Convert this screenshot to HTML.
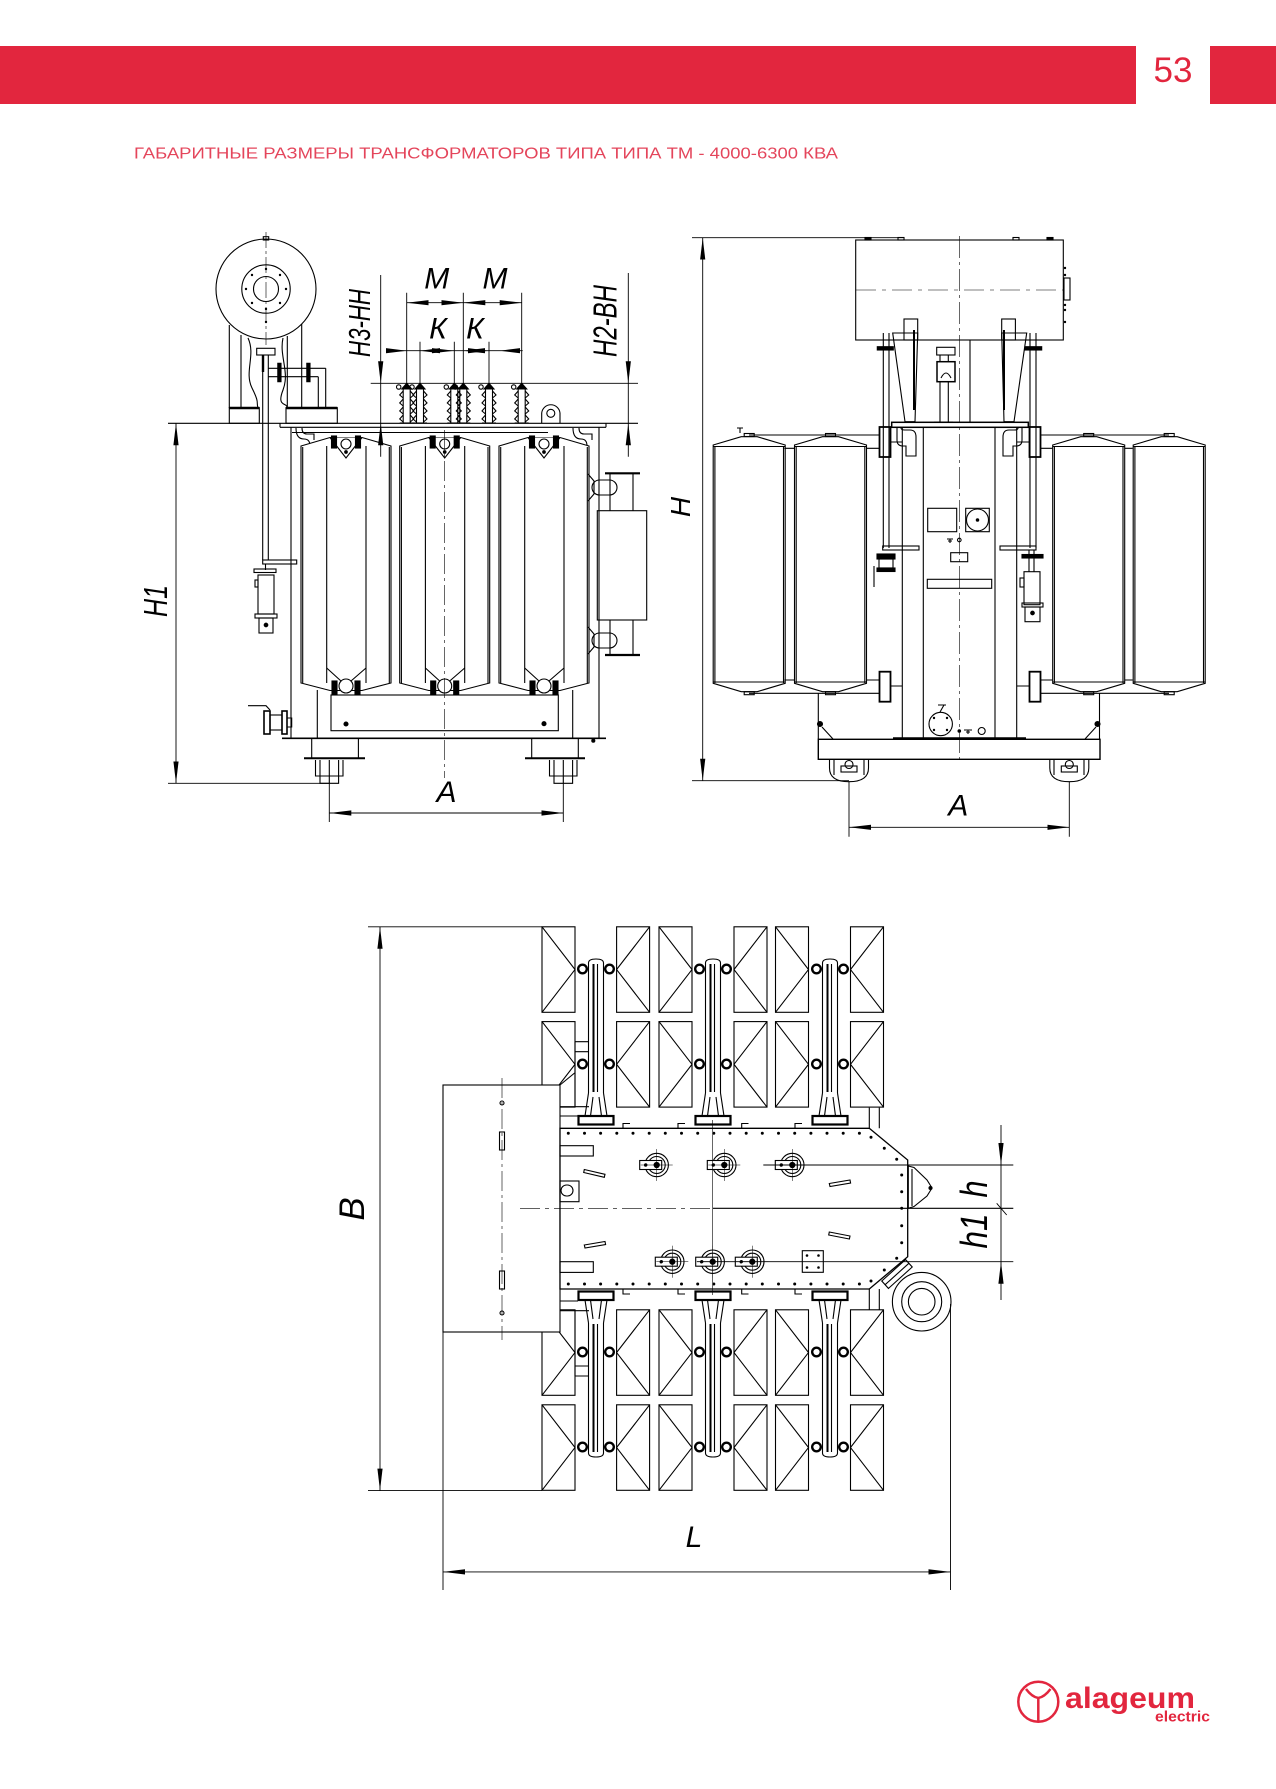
<!DOCTYPE html>
<html><head><meta charset="utf-8"><title>ТМ 4000-6300</title>
<style>html,body{margin:0;padding:0;background:#fff}svg{display:block}</style></head>
<body>
<svg xmlns="http://www.w3.org/2000/svg" width="1276" height="1789" viewBox="0 0 1276 1789">
<defs>
<marker id="ar" viewBox="0 -3 22 6" refX="22" refY="0" markerWidth="22" markerHeight="6" markerUnits="userSpaceOnUse" orient="auto-start-reverse"><path d="M0,-2.6L22,0L0,2.6Z" fill="#000"/></marker>
<g id="lrad">
<path d="M-45,683V446L-16,437.5H16L45,446V683L16,690.5H-16Z" fill="#fff"/>
<path d="M-43.3,447V683M-19.3,446V683M20,446V683M43.3,447V683"/>
<path d="M-16,437.5L0,458L16,437.5" fill="#fff"/>
<circle cx="0" cy="444" r="5"/>
<rect x="-14.5" y="436" width="5" height="12" fill="#000"/>
<rect x="9.5" y="436" width="5" height="12" fill="#000"/>
<circle cx="0" cy="452" r="1.3" fill="#000"/>
<path d="M-19.3,668L-5,681M20,668L5,681"/>
<circle cx="0" cy="686" r="7" fill="#fff"/>
<rect x="-14" y="681" width="5" height="13" fill="#000"/>
<rect x="9" y="681" width="5" height="13" fill="#000"/>
</g>
<g id="rrad">
<path d="M-36,683.3V445L-8,436.7H8L36,445V683.3L8,691.7H-8Z" fill="#fff"/>
<path d="M-34.3,446V683M34.3,446V683M-36,446.5H36M-36,682H36"/>
<rect x="-5" y="433.5" width="10" height="3"/>
<rect x="-5" y="691.7" width="10" height="3"/>
</g>
<g id="cg"><rect x="0" y="0" width="33" height="85.5" fill="#fff"/><path d="M0,0L33,42.75L0,85.5"/></g>
<g id="cl"><rect x="0" y="0" width="33" height="85.5" fill="#fff"/><path d="M33,0L0,42.75L33,85.5"/></g>
<g id="hb">
<path d="M-7.5,1093V963Q-7.5,959 0,959Q7.5,959 7.5,963V1093" fill="#fff"/>
<path d="M-2.5,964V1092" stroke-width="2"/>
<path d="M1.5,964V1092"/>
<path d="M-7.5,1093L-11,1116M7.5,1093L11,1116M-3,1097L-5.5,1116M3,1097L5.5,1116"/>
<rect x="-17.5" y="1116" width="35" height="8.5" stroke-width="2.2" fill="#fff"/>
<circle cx="-13.5" cy="969" r="4.3" stroke-width="2.4" fill="#fff"/>
<circle cx="13.5" cy="969" r="4.3" stroke-width="2.4" fill="#fff"/>
<circle cx="-13.5" cy="1064" r="4.3" stroke-width="2.4" fill="#fff"/>
<circle cx="13.5" cy="1064" r="4.3" stroke-width="2.4" fill="#fff"/>
</g>
<g id="bsh">
<path d="M-3.5,388V423M3.5,388V423"/>
<path d="M-3.5,391L-7,395L-3.5,398M3.5,391L7,395L3.5,398M-3.5,399L-7,403L-3.5,406M3.5,399L7,403L3.5,406M-3.5,407L-7,411L-3.5,414M3.5,407L7,411L3.5,414M-3.5,415L-7,419L-3.5,422M3.5,415L7,419L3.5,422"/>
<path d="M-5,389L0,383.3L5,389Z" fill="#000"/>
<circle cx="-8" cy="387" r="2.2"/>
<path d="M-7,423H7"/>
</g>
<g id="tbsh">
<circle cx="0" cy="0" r="11.7"/>
<circle cx="0" cy="0" r="8.5"/>
<rect x="-17" y="-4.5" width="22" height="9" fill="#fff"/>
<circle cx="0" cy="0" r="2.6" fill="#000"/>
<circle cx="-11" cy="0" r="1.2" fill="#000"/>
<path d="M-16,0H16M0,-16V16" stroke-width="0.5"/>
</g>
</defs>

<rect width="1276" height="1789" fill="#fff"/>

<!-- HEADER -->
<rect x="0" y="46" width="1136" height="58" fill="#e2263e"/>
<rect x="1210" y="46" width="66" height="58" fill="#e2263e"/>
<text x="1173" y="82" font-family="Liberation Sans, sans-serif" font-size="35" text-anchor="middle" fill="#e2263e">53</text>
<text x="134" y="158.3" font-family="Liberation Sans, sans-serif" font-size="16" fill="#e4455b" textLength="704" lengthAdjust="spacingAndGlyphs">ГАБАРИТНЫЕ РАЗМЕРЫ ТРАНСФОРМАТОРОВ ТИПА ТИПА ТМ - 4000-6300 КВА</text>

<!-- ================= LEFT (FRONT) VIEW ================= -->
<g fill="none" stroke="#000" stroke-width="1.1">
<circle cx="266" cy="289" r="50"/>
<circle cx="266" cy="289" r="24.2"/>
<circle cx="266" cy="289" r="12.5"/>
<g fill="#000" stroke="none">
<circle cx="266" cy="269" r="1.2"/><circle cx="266" cy="309" r="1.2"/><circle cx="246" cy="289" r="1.2"/><circle cx="286" cy="289" r="1.2"/>
<circle cx="252" cy="275" r="1.2"/><circle cx="280" cy="275" r="1.2"/><circle cx="252" cy="303" r="1.2"/><circle cx="280" cy="303" r="1.2"/>
<circle cx="266" cy="322" r="1.2"/>
</g>
<rect x="263.3" y="236.7" width="5.4" height="3.3"/>
<path d="M266,232V345" stroke-width="0.6" stroke-dasharray="16 3 3 3"/>
<path d="M229.3,325V408M241,335V408M287.3,336V408M301.7,324V408"/>
<path d="M248,338C256,355 244,372 252,388S256,402 258,408M283,338C279,356 290,372 283,390S288,402 287,408"/>
<rect x="229.3" y="407.7" width="30" height="15.6"/>
<path d="M229.3,408H259.3M286,408H337.3" stroke-width="2.4"/>
<rect x="286" y="407.7" width="51.3" height="15.6"/>
<path d="M262.7,355V560M268.3,355V560"/>
<rect x="256.7" y="348.3" width="18.3" height="6.7"/>
<path d="M263,355V372" stroke-width="2.4"/>
<path d="M268.3,368.3H325.7M268.3,376.7H318.3M325.7,368.3V407.7M318.3,376.7V407.7"/>
<rect x="277.8" y="363.3" width="3.2" height="18.4" fill="#000"/>
<rect x="306.8" y="363.3" width="3.2" height="18.4" fill="#000"/>
<rect x="262.7" y="560" width="34" height="4"/>
<path d="M265.5,564V570" />
<rect x="254" y="569" width="22" height="3.5"/>
<rect x="258" y="575" width="16" height="39"/>
<rect x="255" y="580" width="3" height="7"/>
<rect x="255" y="614" width="22" height="4"/>
<rect x="259" y="618" width="14" height="15"/>
<circle cx="266" cy="625" r="1.8" fill="#000"/>
<path d="M248,705.7H266L270,710"/>
<rect x="264" y="711" width="6" height="23" stroke-width="1.6"/>
<rect x="270" y="715" width="12" height="15"/>
<rect x="282" y="711" width="5" height="23" stroke-width="1.6"/>
<path d="M287,718H291.7V727H287"/>
<path d="M168,423.3H638"/>
<path d="M280,427.3H606M280,423.3V427.3M606,423.3V427.3"/>
<path d="M292,432.5H548"/>
<path d="M291,427.3V738.3M599,427.3V738.3"/>
<path d="M282,738.3H606" stroke-width="1.6"/>
<path d="M296,428Q296,439 304,439Q310,439 310,446M302,428Q302,434 307,434H314V440"/>
<path d="M573,428Q573,439 581,439Q587,439 587,446M579,428Q579,434 584,434H592V440"/>
<path d="M541.7,423.3V413A9.2,9.2 0 0 1 560,413V423.3"/>
<circle cx="550.8" cy="413.3" r="4"/>
<use href="#bsh" x="406.7"/><use href="#bsh" x="420"/><use href="#bsh" x="454.3"/><use href="#bsh" x="463.3"/><use href="#bsh" x="489"/><use href="#bsh" x="521.7"/>
<use href="#lrad" x="346"/><use href="#lrad" x="444.7"/><use href="#lrad" x="544"/>
<path d="M444.7,430V778" stroke-width="0.6" stroke-dasharray="20 4 3 4"/>
<rect x="331" y="695" width="227.3" height="35.7"/>
<circle cx="346" cy="724" r="2" fill="#000"/>
<circle cx="544" cy="723.7" r="2" fill="#000"/>
<path d="M317.3,690V738.3M572.7,690V738.3"/>
<rect x="311.7" y="738.3" width="46.7" height="20"/>
<path d="M304,758.3H365" stroke-width="2"/>
<path d="M315.5,760V776H343V760M320,760V783.3H338.6V760M329.3,760V783.3"/>
<rect x="531.7" y="738.3" width="46.6" height="20"/>
<path d="M525,758.3H585" stroke-width="2"/>
<path d="M549.5,760V776H577V760M554,760V783.3H572.6V760M563.3,760V783.3"/>
<rect x="597.3" y="510.7" width="49.4" height="109.3"/>
<path d="M605,473.3H640M605,655H640" stroke-width="2.2"/>
<path d="M610,473.3V510.7M633,473.3V510.7M610,620V655M633,620V655"/>
<rect x="592" y="480" width="25" height="15" rx="7.5"/>
<path d="M588,474L594,481V494L588,501"/>
<rect x="592" y="633" width="25" height="15" rx="7.5"/>
<path d="M588,627L594,634V647L588,654"/>
<circle cx="593.3" cy="740.7" r="1.5" fill="#000"/>
</g>

<g fill="none" stroke="#000" stroke-width="0.9">
<path d="M176,423.3V783.3" marker-start="url(#ar)" marker-end="url(#ar)"/>
<path d="M168,783.3H329.3"/>
<path d="M329.3,783.3V822M563.3,783.3V822"/>
<path d="M329.3,813H563.3" marker-start="url(#ar)" marker-end="url(#ar)"/>
<path d="M380.7,275V456.7M628.3,273V456.7"/>
<path d="M370.7,383.3H638"/>
<path d="M406.7,292.7V383M463.3,292.7V383M521.7,292.7V383"/>
<path d="M406.7,302.7H463.3" marker-start="url(#ar)" marker-end="url(#ar)"/>
<path d="M463.3,302.7H521.7" marker-start="url(#ar)" marker-end="url(#ar)"/>
<path d="M420,341.7V383M454.3,341.7V383M489,341.7V383"/>
<path d="M386.7,350.7H522.7"/>
</g>
<g fill="#000" stroke="none">
<path d="M380.7,383.3L378.1,361.3H383.3Z"/><path d="M380.7,423.3L378.1,445.3H383.3Z"/>
<path d="M628.3,383.3L625.7,361.3H630.9Z"/><path d="M628.3,423.3L625.7,445.3H630.9Z"/>
<path d="M406.7,350.7L386,348.1V353.3Z"/>
<path d="M420,350.7L440,348.1V353.3Z"/>
<path d="M454.3,350.7L432,348.1V353.3Z"/>
<path d="M463.3,350.7L485,348.1V353.3Z"/>
<path d="M489,350.7L468,348.1V353.3Z"/>
<path d="M500,350.7L520,348.1V353.3Z"/>
</g>
<g font-family="Liberation Sans, sans-serif" font-style="italic" fill="#000">
<text x="446.5" y="802" font-size="30" text-anchor="middle">А</text>
<text x="436.7" y="288.3" font-size="30" text-anchor="middle">М</text>
<text x="495" y="288.3" font-size="30" text-anchor="middle">М</text>
<text x="438" y="338.3" font-size="30" text-anchor="middle">К</text>
<text x="475" y="338.3" font-size="30" text-anchor="middle">К</text>
<text transform="translate(167,601) rotate(-90)" font-size="33" text-anchor="middle" textLength="32" lengthAdjust="spacingAndGlyphs">Н1</text>
<text transform="translate(370,323) rotate(-90)" font-size="31" text-anchor="middle" textLength="68" lengthAdjust="spacingAndGlyphs">Н3-НН</text>
<text transform="translate(616.5,321) rotate(-90)" font-size="33" text-anchor="middle" textLength="72" lengthAdjust="spacingAndGlyphs">Н2-ВН</text>
</g>

<!-- ================= RIGHT (SIDE) VIEW ================= -->
<g fill="none" stroke="#000" stroke-width="1.1">
<rect x="855.7" y="240" width="207.6" height="100"/>
<path d="M856,290H1063" stroke-width="0.6" stroke-dasharray="20 6 4 6"/>
<rect x="865" y="237.5" width="6" height="2.5" fill="#000"/>
<rect x="898" y="237.5" width="6" height="2.5"/>
<rect x="1013" y="237.5" width="6" height="2.5"/>
<rect x="1047" y="237.5" width="6" height="2.5" fill="#000"/>
<rect x="1064" y="278" width="6" height="22"/>
<g fill="#000" stroke="none"><circle cx="1065" cy="268" r="1.2"/><circle cx="1065" cy="275" r="1.2"/><circle cx="1065" cy="305" r="1.2"/><circle cx="1065" cy="310" r="1.2"/><circle cx="1065" cy="322" r="1.2"/></g>
<rect x="904" y="319" width="13.7" height="21"/>
<path d="M892.7,333H917.7L915,421.7H905Z"/>
<path d="M914,330V410" stroke-width="2"/>
<rect x="1001.7" y="319" width="13.7" height="21"/>
<path d="M1001.7,333H1026.7L1014,421.7H1004Z"/>
<path d="M1004,330V410" stroke-width="2"/>
<path d="M883.3,333V548M889,333V548M1030,333V548M1036,333V548"/>
<rect x="877.3" y="346.7" width="16" height="3.3" fill="#000"/>
<rect x="1025" y="346.7" width="16.7" height="3.3" fill="#000"/>
<rect x="936.7" y="347.3" width="18.3" height="7.7"/>
<path d="M940,355V362M948.3,355V362"/>
<rect x="937" y="361.7" width="18" height="20" stroke-width="1.5"/>
<path d="M941,378Q946,368 951,378"/>
<path d="M940,381.7V422M948.3,381.7V422M934,422H953"/>
<path d="M970,340V422"/>
<rect x="891.7" y="422.3" width="136.6" height="5" stroke-width="1.5"/>
<use href="#rrad" x="749.2"/><use href="#rrad" x="830.5"/><use href="#rrad" x="1088.7"/><use href="#rrad" x="1169.2"/>
<path d="M749,435H880M784.3,448.3H794.3M866.7,448.3H880M1040,435H1169M1040,448.3H1052.3M1125,448.3H1132.7"/>
<path d="M749,693.3H880M784.3,680H794.3M866.7,680H880M1040,693.3H1169M1040,680H1052.3M1125,680H1132.7"/>
<path d="M740,433V428M737,428H743"/>
<rect x="879.5" y="427" width="11" height="30" stroke-width="1.8"/>
<rect x="1029.5" y="427" width="11" height="30" stroke-width="1.8"/>
<rect x="879.5" y="671.7" width="11" height="30" stroke-width="1.8"/>
<rect x="1029.5" y="671.7" width="11" height="30" stroke-width="1.8"/>
<path d="M890.5,442H902M1017,442H1029.5M890.5,686H902M1017,686H1029.5"/>
<path d="M902.3,427.3V738.3M1016.7,427.3V738.3M923.3,427.3V738.3M995,427.3V738.3"/>
<path d="M897,428V440Q897,446 903,446H906V456H916V437Q916,430 910,430H905Q901,430 901,428"/>
<path d="M1022,428V440Q1022,446 1016,446H1013V456H1003V437Q1003,430 1009,430H1014Q1018,430 1018,428"/>
<rect x="927.7" y="508.3" width="29" height="23.4"/>
<rect x="965.7" y="508.3" width="23.6" height="23.4"/>
<circle cx="977.5" cy="520" r="11"/>
<circle cx="977.5" cy="520" r="1.2" fill="#000"/>
<path d="M947,539H953M950,539V543M948,541H952"/>
<circle cx="959.3" cy="540" r="1.8"/>
<rect x="950.7" y="552.7" width="17" height="9"/>
<rect x="927.3" y="579.3" width="64.4" height="9"/>
<rect x="882.7" y="546" width="36.3" height="4"/>
<rect x="1000" y="546" width="36" height="4"/>
<rect x="877" y="554" width="18" height="5" fill="#000"/>
<rect x="879" y="559" width="14" height="9"/>
<rect x="877" y="568" width="18" height="3.5" fill="#000"/>
<path d="M874,566V587"/>
<rect x="1022" y="554.5" width="21" height="3.5" fill="#000"/>
<path d="M1029,550V571.7M1034,550V571.7"/>
<rect x="1024" y="571.7" width="16" height="33"/>
<rect x="1020" y="578" width="4" height="9"/>
<rect x="1022" y="603" width="21" height="4"/>
<rect x="1025" y="607" width="15" height="14.7"/>
<circle cx="1032.5" cy="613" r="1.8" fill="#000"/>
<circle cx="940.7" cy="724" r="11.7"/>
<g fill="#000" stroke="none"><circle cx="934" cy="718" r="1.2"/><circle cx="947" cy="718" r="1.2"/><circle cx="934" cy="730" r="1.2"/><circle cx="947" cy="730" r="1.2"/><circle cx="959.3" cy="731" r="1.8"/></g>
<path d="M940,712L944,705M938,705L946,705"/>
<path d="M964,730H972M968,730V734M966,732H970"/>
<circle cx="981.7" cy="731" r="3.5"/>
<path d="M893,738.3H1026" stroke-width="2.2"/>
<rect x="818.3" y="739.3" width="281.7" height="20" stroke-width="1.4"/>
<path d="M818.3,693.3V739M1099.5,693.3V739M822,727L833,739M1096,727L1085,739"/>
<circle cx="820" cy="724" r="2.5" fill="#000"/>
<circle cx="1097.5" cy="724" r="2.5" fill="#000"/>
<path d="M829.5,760V768Q829.5,781.7 849,781.7Q868.5,781.7 868.5,768V760M1049.8,760V768Q1049.8,781.7 1069.3,781.7Q1088.8,781.7 1088.8,768V760"/>
<path d="M834,760V775M864,760V775M1054,760V775M1084,760V775"/>
<rect x="841" y="766" width="16" height="6"/>
<circle cx="849" cy="764.5" r="4"/>
<rect x="1061.3" y="766" width="16" height="6"/>
<circle cx="1069.3" cy="764.5" r="4"/>
<path d="M959.3,236V762" stroke-width="0.6" stroke-dasharray="22 4 3 4"/>
</g>
<g fill="none" stroke="#000" stroke-width="0.9">
<path d="M692,237.7H903M692,780.7H849"/>
<path d="M702.7,237.7V780.7" marker-start="url(#ar)" marker-end="url(#ar)"/>
<path d="M849,782V836.7M1069.3,782V836.7"/>
<path d="M849,827.3H1069.3" marker-start="url(#ar)" marker-end="url(#ar)"/>
</g>
<g font-family="Liberation Sans, sans-serif" font-style="italic" fill="#000">
<text x="958.3" y="815.5" font-size="30" text-anchor="middle">А</text>
<text transform="translate(690,507) rotate(-90)" font-size="28" text-anchor="middle">Н</text>
</g>

<!-- ================= TOP (PLAN) VIEW ================= -->
<g fill="none" stroke="#000" stroke-width="1.1">
<use href="#cg" x="542" y="926.8"/><use href="#cl" x="616.6" y="926.8"/><use href="#cg" x="659" y="926.8"/><use href="#cl" x="734" y="926.8"/><use href="#cg" x="775.5" y="926.8"/><use href="#cl" x="850.5" y="926.8"/>
<use href="#cg" x="542" y="1021.6"/><use href="#cl" x="616.6" y="1021.6"/><use href="#cg" x="659" y="1021.6"/><use href="#cl" x="734" y="1021.6"/><use href="#cg" x="775.5" y="1021.6"/><use href="#cl" x="850.5" y="1021.6"/>
<use href="#cg" x="542" y="1309.8"/><use href="#cl" x="616.6" y="1309.8"/><use href="#cg" x="659" y="1309.8"/><use href="#cl" x="734" y="1309.8"/><use href="#cg" x="775.5" y="1309.8"/><use href="#cl" x="850.5" y="1309.8"/>
<use href="#cg" x="542" y="1404.8"/><use href="#cl" x="616.6" y="1404.8"/><use href="#cg" x="659" y="1404.8"/><use href="#cl" x="734" y="1404.8"/><use href="#cg" x="775.5" y="1404.8"/><use href="#cl" x="850.5" y="1404.8"/>
<path d="M575,1041.7H589M575,1051.7H589M575,1041.7V1107M560,1106.7H589"/>
<path d="M575,1376H589M575,1366H589M575,1376V1310M560,1310.7H589"/>
<path d="M869.3,1107.6V1128.3M879.3,1107.6V1128.3M869.3,1289V1309.8M879.3,1289V1309.8"/>
<path d="M560,1116H578M560,1301H578"/>
<use href="#hb" x="596"/><use href="#hb" x="713"/><use href="#hb" x="830"/>
<use href="#hb" transform="translate(596,2416) scale(1,-1)"/>
<use href="#hb" transform="translate(713,2416) scale(1,-1)"/>
<use href="#hb" transform="translate(830,2416) scale(1,-1)"/>
<path d="M623,1128V1123.5H630M678,1128V1123.5H685M741.7,1128V1123.5H748.5M795,1128V1123.5H802"/>
<path d="M623,1289.5V1294H630M678,1289.5V1294H685M741.7,1289.5V1294H748.5M795,1289.5V1294H802"/>
<rect x="443" y="1085" width="117" height="247" fill="#fff"/>
<path d="M560,1085L574.6,1073"/>
<path d="M502,1078V1340" stroke-width="0.6" stroke-dasharray="20 4 3 4"/>
<circle cx="502" cy="1103" r="2"/><circle cx="502" cy="1313" r="2"/>
<rect x="499.5" y="1132" width="5" height="18"/>
<rect x="499.5" y="1271" width="5" height="18"/>
<path d="M560,1128.3H869.3L907.7,1160V1256.7L869.3,1289H560Z" fill="#fff" stroke-width="1.3"/>
<g fill="#000" stroke="none">
<circle cx="568.3" cy="1133.3" r="1.5"/><circle cx="584.5" cy="1133.3" r="1.5"/><circle cx="600.6" cy="1133.3" r="1.5"/><circle cx="616.8" cy="1133.3" r="1.5"/><circle cx="633" cy="1133.3" r="1.5"/><circle cx="649.2" cy="1133.3" r="1.5"/><circle cx="665.3" cy="1133.3" r="1.5"/><circle cx="681.5" cy="1133.3" r="1.5"/><circle cx="697.7" cy="1133.3" r="1.5"/><circle cx="713.8" cy="1133.3" r="1.5"/><circle cx="730" cy="1133.3" r="1.5"/><circle cx="746.2" cy="1133.3" r="1.5"/><circle cx="762.3" cy="1133.3" r="1.5"/><circle cx="778.5" cy="1133.3" r="1.5"/><circle cx="794.7" cy="1133.3" r="1.5"/><circle cx="810.9" cy="1133.3" r="1.5"/><circle cx="827" cy="1133.3" r="1.5"/><circle cx="843.2" cy="1133.3" r="1.5"/><circle cx="859.4" cy="1133.3" r="1.5"/>
<circle cx="568.3" cy="1284" r="1.5"/><circle cx="584.5" cy="1284" r="1.5"/><circle cx="600.6" cy="1284" r="1.5"/><circle cx="616.8" cy="1284" r="1.5"/><circle cx="633" cy="1284" r="1.5"/><circle cx="649.2" cy="1284" r="1.5"/><circle cx="665.3" cy="1284" r="1.5"/><circle cx="681.5" cy="1284" r="1.5"/><circle cx="697.7" cy="1284" r="1.5"/><circle cx="713.8" cy="1284" r="1.5"/><circle cx="730" cy="1284" r="1.5"/><circle cx="746.2" cy="1284" r="1.5"/><circle cx="762.3" cy="1284" r="1.5"/><circle cx="778.5" cy="1284" r="1.5"/><circle cx="794.7" cy="1284" r="1.5"/><circle cx="810.9" cy="1284" r="1.5"/><circle cx="827" cy="1284" r="1.5"/><circle cx="843.2" cy="1284" r="1.5"/><circle cx="859.4" cy="1284" r="1.5"/>
<circle cx="871" cy="1137.3" r="1.5"/><circle cx="884.3" cy="1148.3" r="1.5"/><circle cx="896.7" cy="1159.3" r="1.5"/>
<circle cx="871" cy="1281" r="1.5"/><circle cx="884.3" cy="1270" r="1.5"/><circle cx="896.7" cy="1258.3" r="1.5"/>
<circle cx="901.7" cy="1175" r="1.5"/><circle cx="901.7" cy="1191.7" r="1.5"/><circle cx="901.7" cy="1208.3" r="1.5"/><circle cx="901.7" cy="1225.7" r="1.5"/><circle cx="901.7" cy="1242.7" r="1.5"/>
</g>
<rect x="560" y="1145.7" width="33.3" height="10.3"/>
<rect x="560" y="1261.7" width="33.3" height="10.7"/>
<rect x="560" y="1181" width="19" height="20.7"/>
<rect x="561" y="1185" width="12" height="11" rx="5.5"/>
<path d="M584.3,1169.5L605,1174.3L604.3,1177.3L583.7,1172.5Z"/>
<path d="M829.3,1183.5L850,1180L850.6,1183L830,1186.5Z"/>
<path d="M584.3,1245L605,1241.5L605.6,1244.5L585,1248Z"/>
<path d="M829.3,1232L850,1236L849.4,1239L828.7,1235Z"/>
<rect x="802.3" y="1250.7" width="21" height="21.6"/>
<g fill="#000" stroke="none"><circle cx="807" cy="1255.5" r="1.3"/><circle cx="818.5" cy="1255.5" r="1.3"/><circle cx="807" cy="1267.5" r="1.3"/><circle cx="818.5" cy="1267.5" r="1.3"/></g>
<use href="#tbsh" x="656.7" y="1165"/><use href="#tbsh" x="724.3" y="1165"/><use href="#tbsh" x="792.3" y="1165"/>
<use href="#tbsh" x="672.3" y="1261.7"/><use href="#tbsh" x="712.7" y="1261.7"/><use href="#tbsh" x="752.3" y="1261.7"/>
<path d="M520,1208.3H713" stroke-width="0.7" stroke-dasharray="20 5 4 5"/>
<path d="M713,1208.3H1013.3" stroke-width="1.2"/>
<path d="M712.7,1120V1295" stroke-width="0.6"/>
<path d="M908.3,1166L914,1167.5L927,1180L932,1188L927,1196L914,1206.5L908.3,1208.3Z" fill="#fff"/>
<path d="M912,1169V1206"/>
<circle cx="930.5" cy="1188" r="1.5" fill="#000"/>
<g transform="translate(897,1274) rotate(-42)"><rect x="-16" y="-5" width="32" height="10" fill="#fff"/><path d="M-16,0H16"/></g>
<circle cx="921.7" cy="1301.7" r="29.3" fill="#fff"/>
<circle cx="921.7" cy="1301.7" r="20"/>
<circle cx="921.7" cy="1301.7" r="13.3"/>
</g>
<g fill="none" stroke="#000" stroke-width="0.9">
<path d="M368,926.8H542M368,1490.6H542"/>
<path d="M380,926.8V1490.6" marker-start="url(#ar)" marker-end="url(#ar)"/>
<path d="M443,1332V1590M950.5,1304V1590"/>
<path d="M443,1571.9H950.5" marker-start="url(#ar)" marker-end="url(#ar)"/>
<path d="M763.3,1165H1013.3M697,1261.7H1013.3"/>
<path d="M1001,1125V1300"/>
<path d="M996.7,1203.3L1006.7,1215"/>
</g>
<g fill="#000" stroke="none">
<path d="M1001,1165L998.4,1143H1003.6Z"/>
<path d="M1001,1261.7L998.4,1283.7H1003.6Z"/>
</g>
<g font-family="Liberation Sans, sans-serif" font-style="italic" fill="#000">
<text transform="translate(364,1209) rotate(-90)" font-size="35" text-anchor="middle">В</text>
<text x="694" y="1547" font-size="30" text-anchor="middle">L</text>
<text transform="translate(987,1189) rotate(-90)" font-size="38" text-anchor="middle" textLength="17" lengthAdjust="spacingAndGlyphs">h</text>
<text transform="translate(987,1231) rotate(-90)" font-size="38" text-anchor="middle" textLength="35" lengthAdjust="spacingAndGlyphs">h1</text>
</g>

<!-- LOGO -->
<g fill="none" stroke="#e2263e" stroke-width="2.5">
<circle cx="1038.3" cy="1701.7" r="20"/>
<path d="M1026,1689Q1032,1697 1038.3,1698Q1044.5,1697 1050.5,1689M1038.3,1698V1721"/>
</g>
<text x="1065" y="1708" font-family="Liberation Sans, sans-serif" font-weight="bold" font-size="30" fill="#e2263e" textLength="130" lengthAdjust="spacingAndGlyphs">alageum</text>
<text x="1155" y="1721.5" font-family="Liberation Sans, sans-serif" font-weight="bold" font-size="15" fill="#e2263e" textLength="55" lengthAdjust="spacingAndGlyphs">electric</text>
</svg>
</body></html>
